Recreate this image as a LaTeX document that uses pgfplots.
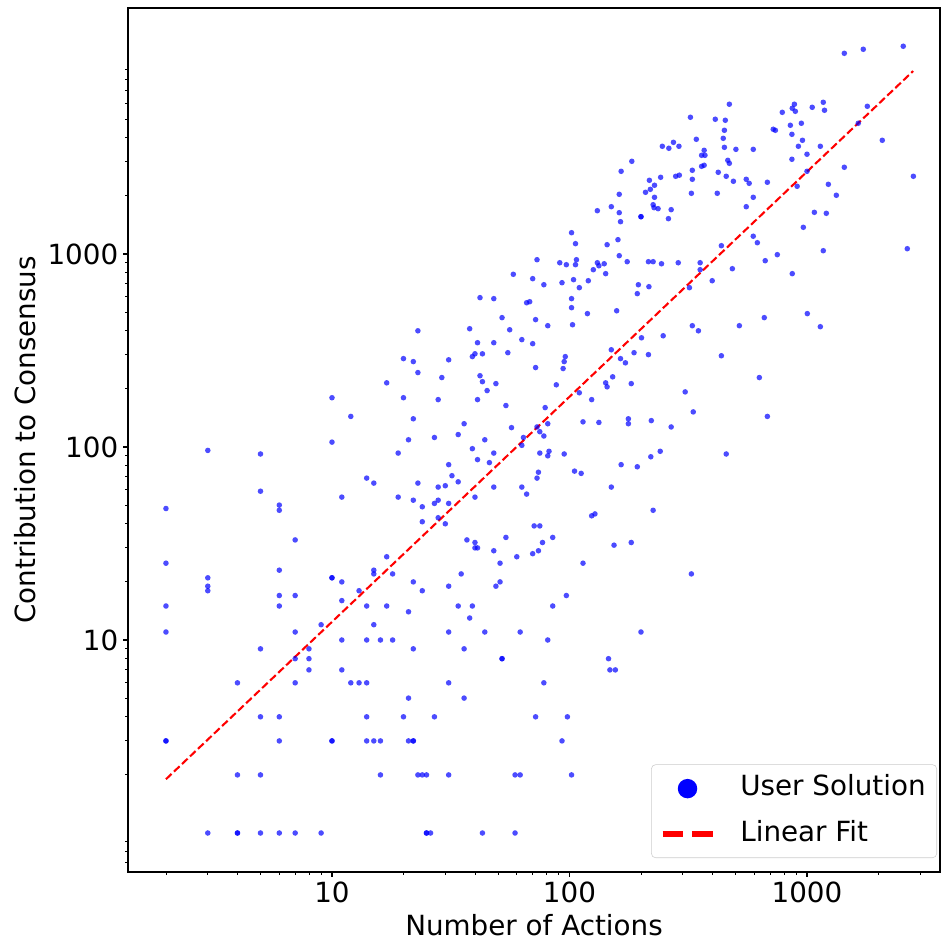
\documentclass[border=0pt]{standalone}
\usepackage{fontspec}
\setmainfont{DejaVu Sans}
\usepackage{pgfplots}
\pgfplotsset{compat=1.18}
\begin{document}
\begin{tikzpicture}
\begin{axis}[
  name=ax,
  scale only axis,
  width=584.64pt, height=622.08pt,
  xmode=log, ymode=log,
  xmin=1.384, xmax=3631,
  ymin=0.628, ymax=18820,
  axis line style={line width=0.8pt},
  tick align=outside,
  tick pos=left,
  major tick length=3.5pt,
  minor tick length=2pt,
  every major tick/.style={line width=0.8pt, black},
  every minor tick/.style={line width=0.6pt, black},
  xtick={10,100,1000}, xticklabels={10,100,1000},
  ytick={10,100,1000}, yticklabels={10,100,1000},
  minor xtick={2,3,4,5,6,7,8,9,20,30,40,50,60,70,80,90,200,300,400,500,600,700,800,900,2000,3000},
  minor ytick={0.7,0.8,0.9,2,3,4,5,6,7,8,9,20,30,40,50,60,70,80,90,200,300,400,500,600,700,800,900,2000,3000,4000,5000,6000,7000,8000,9000},
  tick label style={font=\fontsize{20}{24}\selectfont},
  xlabel={Number of Actions},
  ylabel={Contribution to Consensus},
  every axis x label/.style={at={(axis description cs:0.5,-0.0615)}, anchor=center, font=\fontsize{20}{24}\selectfont},
  every axis y label/.style={at={(axis description cs:-0.1268,0.5)}, rotate=90, anchor=center, font=\fontsize{20}{24}\selectfont},
  legend style={
    at={(0.9963,0.0162)}, anchor=south east,
    draw=black!20, rounded corners=3pt, fill=white, fill opacity=0.8, text opacity=1,
    font=\fontsize{20}{24}\selectfont,
    inner xsep=6pt, inner ysep=6pt,
    row sep=10pt,
    nodes={text height=14.5pt, text depth=4pt, inner xsep=2pt},
    /tikz/every odd column/.append style={column sep=16pt},
  },
  legend cell align=left,
]
\addplot[blue, only marks, mark=*, mark size=2pt,
  mark options={fill=blue, fill opacity=0.7, draw opacity=0},
  legend image code/.code={\fill[blue, draw=none, fill opacity=1] (18pt,0pt) circle (7pt); \path[draw=none] (0pt,0pt) -- (36pt,0pt);}]
table {
x y
10 180
10 106
3 96
5 92
5 59
6 50
6 47
2 48
7 33
2 25
6 23
3 21
3 19
3 18
6 17
7 17
10 21
10 21
11 20
11 16
11 55
2 15
6 15
2 11
7 11
5 9
9 12
8 9
7 8
8 8
8 7
7 6
4 6
11 10
11 7
5 4
6 4
2 3
2 3
6 3
10 3
10 3
4 2
5 2
3 1
4 1
4 1
5 1
6 1
7 1
9 1
14 15
17 15
21 14
34 15
39 15
15 12
38 13
14 10
16 10
18 10
31 11
44 11
62 11
22 9
36 9
52 8
52 8
12 6
13 6
14 6
31 6
78 6
21 5
36 5
14 4
20 4
27 4
72 4
14 3
15 3
16 3
21 3
22 3
22 3
16 2
23 2
24 2
25 2
31 2
59 2
62 2
25 1
25 1
26 1
43 1
59 1
17 215
20 180
28 176
43 218
49 213
45 196
41 176
54 164
12 144
22 140
36 132
57 126
73 127
34 116
27 112
21 109
44 109
64 112
63 102
75 120
78 114
39 98
48 93
75 93
19 93
41 86
46 83
31 81
74 74
73 69
32 71
14 69
15 65
34 66
23 65
28 62
30 63
48 62
63 62
66 57
40 55
19 55
22 53
28 53
27 51
31 51
24 49
28 43
30 40
24 41
71 39
75 39
77 32
74 29
70 28
60 27
54 34
37 33
40 32
40 30
41 30
48 29
51 25
17 27
15 23
15 22
18 22
35 22
22 20
51 20
49 19
13 18
24 18
31 19
73 934
58 785
70 745
78 693
42 594
48 587
66 559
68 566
52 468
72 457
38 410
56 405
23 400
63 360
70 343
41 347
48 347
55 308
40 304
39 294
43 304
20 287
22 277
31 283
23 243
29 229
72 258
42 234
88 210
142 215
144 205
182 213
307 193
110 191
124 176
332 152
79 160
81 132
114 135
133 134
177 140
177 132
221 137
268 127
82 95
81 90
95 92
241 95
220 89
457 92
165 81
193 79
105 75
112 73
150 62
124 44
128 45
225 47
85 34
154 31
182 32
114 25
326 22
97 17
85 15
81 10
200 11
146 8
148 7
156 7
98 4
93 3
102 2
131 1676
150 1758
162 1637
164 1470
200 1560
200 1560
225 1800
227 1738
236 1717
268 1697
261 1524
555 1758
102 1289
106 1131
144 1117
160 1186
162 980
91 901
97 880
106 880
107 934
131 901
133 869
140 890
175 912
215 912
225 912
244 890
287 901
355 901
355 829
436 1104
485 839
399 727
320 669
126 829
142 791
93 710
104 736
110 669
120 727
195 693
193 623
216 677
102 587
102 527
119 491
158 508
81 425
103 430
329 425
349 400
519 425
201 368
248 377
150 319
164 287
172 273
187 308
215 301
436 297
96 294
95 277
94 255
152 231
471 5970
323 5110
411 4990
453 4930
449 4375
444 3975
449 3570
502 3485
342 3930
274 3790
246 3615
262 3530
289 3615
369 3445
360 3245
372 3245
464 3057
471 2950
183 3022
360 2846
369 2882
329 2715
423 2650
555 2438
571 2324
457 2527
490 2381
165 2682
280 2527
290 2560
329 2438
242 2497
217 2409
228 2270
219 2163
209 2088
228 1967
162 2038
326 2063
419 2063
1436 10960
1726 11500
2543 11920
885 5970
867 5690
893 5487
787 5420
1052 5755
1171 6110
1185 5555
1795 5825
851 4644
947 4757
721 4428
736 4375
864 4170
1644 4757
957 3883
2075 3883
920 3615
1138 3615
594 3485
1000 3288
864 3096
1000 2682
1436 2814
2805 2527
681 2353
909 2243
1230 2296
1329 2015
594 1967
1074 1644
1206 1625
965 1375
594 1236
618 1144
1171 1040
2644 1065
750 992
667 923
867 791
661 468
1003 491
1138 420
630 229
681 144
};
\addlegendentry{User Solution}
\addplot[red, line width=1.5pt, dash pattern=on 5.55pt off 2.4pt,
  legend image code/.code={\draw[red, line width=4pt, dash pattern=on 14.8pt off 6.4pt] (0pt,0pt) -- (36pt,0pt);}]
coordinates {(2,1.9) (2800,8870)};
\addlegendentry{Linear Fit}
\end{axis}
\pgfresetboundingbox
\path[use as bounding box] ([xshift=-92.16pt,yshift=-49.68pt]ax.south west) rectangle ([xshift=0.72pt,yshift=5.76pt]ax.north east);
\end{tikzpicture}
\end{document}
